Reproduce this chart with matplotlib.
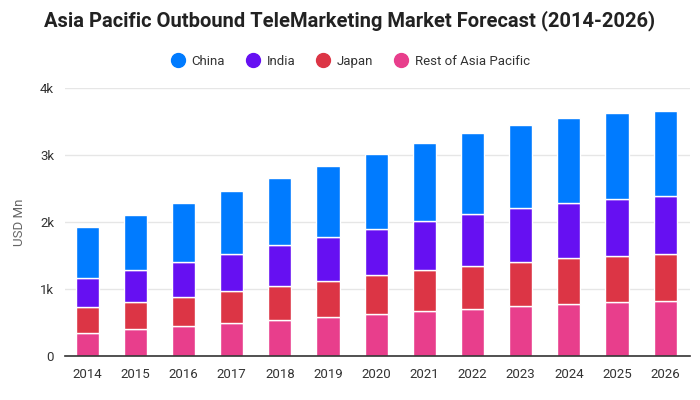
import matplotlib.pyplot as plt
import numpy as np
from matplotlib.lines import Line2D

plt.rcParams['font.family'] = ['Roboto', 'DejaVu Sans']

# data (USD Mn)
years = ['2014', '2015', '2016', '2017', '2018', '2019', '2020',
         '2021', '2022', '2023', '2024', '2025', '2026']
rest_of_apac = [350, 400, 445, 490, 533, 578, 622, 667, 698, 742, 772, 802, 817]
japan = [380, 405, 435, 480, 507, 537, 583, 613, 642, 658, 688, 693, 703]
india = [435, 480, 525, 555, 613, 658, 687, 730, 778, 807, 822, 847, 867]
china = [765, 815, 885, 945, 1007, 1067, 1128, 1170, 1215, 1246, 1275, 1290, 1275]

series = [('Rest of Asia Pacific', rest_of_apac, '#e83e8c'),
          ('Japan', japan, '#dc3545'),
          ('India', india, '#6610f2'),
          ('China', china, '#007bff')]

fig = plt.figure(figsize=(7, 4), dpi=100)
ax = fig.add_axes([0.093, 0.11, 0.893, 0.67])

x = np.arange(len(years))
bottom = np.zeros(len(years))
for name, vals, col in series:
    ax.bar(x, vals, 0.48, bottom=bottom, color=col, edgecolor='white',
           linewidth=1, zorder=3)
    bottom += np.array(vals)

ax.set_xlim(-0.46, 12.52)
ax.set_ylim(0, 4000)
ax.set_xticks(x)
ax.set_xticklabels(years)
ax.set_yticks([0, 1000, 2000, 3000, 4000])
ax.set_yticklabels(['0', '1k', '2k', '3k', '4k'])
ax.tick_params(axis='both', length=0, labelsize=9.5, colors='#333333')
ax.tick_params(axis='x', pad=9)
ax.tick_params(axis='y', pad=8)
ax.grid(axis='y', color='#e6e6e6', linewidth=1, zorder=0)
for s in ['top', 'right', 'left']:
    ax.spines[s].set_visible(False)
ax.spines['bottom'].set_color('#333333')
ax.spines['bottom'].set_linewidth(1.2)
ax.spines['bottom'].set_zorder(4)
ax.set_ylabel('USD Mn', fontsize=9.5, color='#666666', labelpad=10)

fig.suptitle('Asia Pacific Outbound TeleMarketing Market Forecast (2014-2026)',
             x=0.5, y=0.975, fontsize=14.5, fontweight='bold', color='#222222')

handles = [Line2D([], [], marker='o', linestyle='', markersize=10,
                  color=col, label=name)
           for name, vals, col in reversed(series)]
fig.legend(handles=handles, loc='center', bbox_to_anchor=(0.5, 0.847),
           ncol=4, frameon=False, fontsize=9.5, handletextpad=0.45,
           handlelength=1.2, columnspacing=1.5, labelcolor='#333333')

fig.savefig('out.png', dpi=100)
